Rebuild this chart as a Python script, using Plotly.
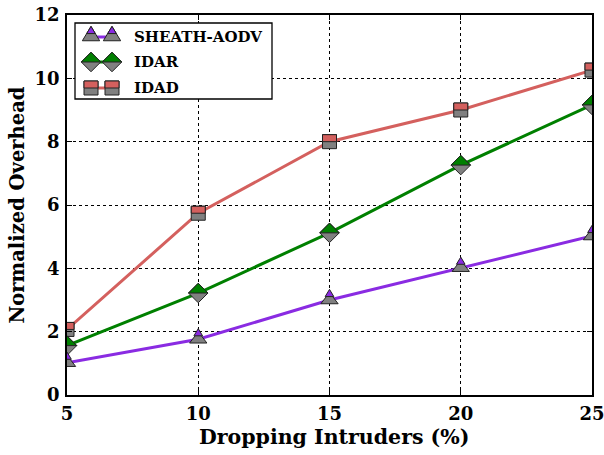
import math
import plotly.graph_objects as go

# ---- data ----
x_vals = [5, 10, 15, 20, 25]
sheath_aodv = [1.02, 1.76, 3.0, 4.02, 5.02]
idar = [1.56, 3.22, 5.12, 7.26, 9.16]
idad = [2.07, 5.74, 8.0, 9.0, 10.26]
series_names = ["SHEATH-AODV", "IDAR", "IDAD"]
x_ticks = [5, 10, 15, 20, 25]
y_ticks = [0, 2, 4, 6, 8, 10, 12]
x_title = "Dropping Intruders (%)"
y_title = "Normalized Overhead"

# ---- styles ----
colors = ["#8a2be2", "#008000", "#d4605e"]
symbols = ["triangle-up", "diamond", "square"]
msizes = [15, 15, 14]
GRAY = "#808080"
EDGE = "#222222"
FONT = "DejaVu Serif"

W, H = 604, 455
L, T, R, B = 67, 15, 12, 60
PW, PH = W - L - R, H - T - B


def sx(X):
    """screen x (pixels) -> paper x"""
    return (X - L) / PW


def sy(Y):
    """screen y (pixels) -> paper y"""
    return (H - B - Y) / PH


def marker_path(symbol, size, half):
    r = size / 2.0
    if symbol == "triangle-up":
        rt = r * 2 / math.sqrt(3)
        r2 = r / 2
        rs = r * math.sqrt(2)
        ymid = (rs - r2) / 2
        if half:
            pts = [(0, rs), (-rt / 2, ymid), (rt / 2, ymid)]
        else:
            pts = [(0, rs), (-rt, -r2), (rt, -r2)]
    elif symbol == "diamond":
        rd = r * 1.3
        if half:
            pts = [(-rd, 0), (rd, 0), (0, rd)]
        else:
            pts = [(-rd, 0), (0, -rd), (rd, 0), (0, rd)]
    else:
        if half:
            pts = [(-r, 0), (r, 0), (r, r), (-r, r)]
        else:
            pts = [(-r, -r), (r, -r), (r, r), (-r, r)]
    return "M" + " L".join(f"{px:.2f},{py:.2f}" for px, py in pts) + " Z"


fig = go.Figure()
all_series = [sheath_aodv, idar, idad]
shapes = []
for name, ys, col, sym, ms in zip(series_names, all_series, colors, symbols, msizes):
    fig.add_trace(go.Scatter(
        x=x_vals, y=ys, name=name, mode="lines+markers",
        line=dict(color=col, width=3),
        marker=dict(symbol=sym, size=ms, color=GRAY,
                    line=dict(color=EDGE, width=1)),
        showlegend=False, cliponaxis=True,
    ))
    path = marker_path(sym, ms, True)
    for xv, yv in zip(x_vals, ys):
        shapes.append(dict(
            type="path", xref="x", yref="y", xsizemode="pixel", ysizemode="pixel",
            xanchor=xv, yanchor=yv, path=path, fillcolor=col,
            line=dict(color=EDGE, width=1), layer="above",
        ))

# ---- manual legend ----
shapes.append(dict(type="rect", xref="paper", yref="paper",
                   x0=sx(75), x1=sx(272), y0=sy(99), y1=sy(23),
                   line=dict(color="black", width=1.3), fillcolor="white",
                   layer="above"))
annotations = []
row_y = [37, 62, 88]
mx = [91, 112]
for name, col, sym, ms, ry in zip(series_names, colors, symbols, msizes, row_y):
    shapes.append(dict(type="line", xref="paper", yref="paper",
                       x0=sx(mx[0]), x1=sx(mx[1]), y0=sy(ry), y1=sy(ry),
                       line=dict(color=col, width=3), layer="above"))
    for X in mx:
        for half, fc in ((False, GRAY), (True, col)):
            shapes.append(dict(type="path", xref="paper", yref="paper",
                               xsizemode="pixel", ysizemode="pixel",
                               xanchor=sx(X), yanchor=sy(ry),
                               path=marker_path(sym, ms, half), fillcolor=fc,
                               line=dict(color=EDGE, width=1), layer="above"))
    annotations.append(dict(x=sx(132), y=sy(ry), xref="paper", yref="paper",
                            text=name, showarrow=False, xanchor="left", yanchor="middle",
                            font=dict(family=FONT, size=15, color="black", weight="bold")))

# axis titles
annotations.append(dict(x=sx(334), y=sy(437), xref="paper", yref="paper", text=x_title,
                        showarrow=False, xanchor="center", yanchor="middle",
                        font=dict(family=FONT, size=20.5, color="black", weight="bold")))
annotations.append(dict(x=sx(17), y=sy(205.5), xref="paper", yref="paper", text=y_title,
                        showarrow=False, xanchor="center", yanchor="middle", textangle=-90,
                        font=dict(family=FONT, size=19.5, color="black", weight="bold")))

axis_common = dict(
    showline=True, linecolor="black", linewidth=1.5, mirror="ticks",
    ticks="inside", ticklen=5, tickcolor="black", tickwidth=1,
    showgrid=True, gridcolor="black", gridwidth=1, griddash="dot",
    zeroline=False, automargin=False, ticklabeloverflow="allow",
    tickfont=dict(family=FONT, size=18, color="black", weight="bold"),
)

fig.update_layout(
    width=W, height=H,
    margin=dict(l=L, r=R, t=T, b=B),
    paper_bgcolor="white", plot_bgcolor="white",
    shapes=shapes, annotations=annotations,
    xaxis=dict(range=[5, 25], tickvals=x_ticks, ticktext=[str(v) for v in x_ticks],
               ticklabelstandoff=2, **axis_common),
    yaxis=dict(range=[0, 12], tickvals=y_ticks, ticktext=[str(v) for v in y_ticks],
               ticklabelstandoff=2, **axis_common),
)

fig.write_html("out.html",
               config={"displayModeBar": False},
               post_script="document.body.style.margin='0px';"
                           "document.body.style.overflow='hidden';")
